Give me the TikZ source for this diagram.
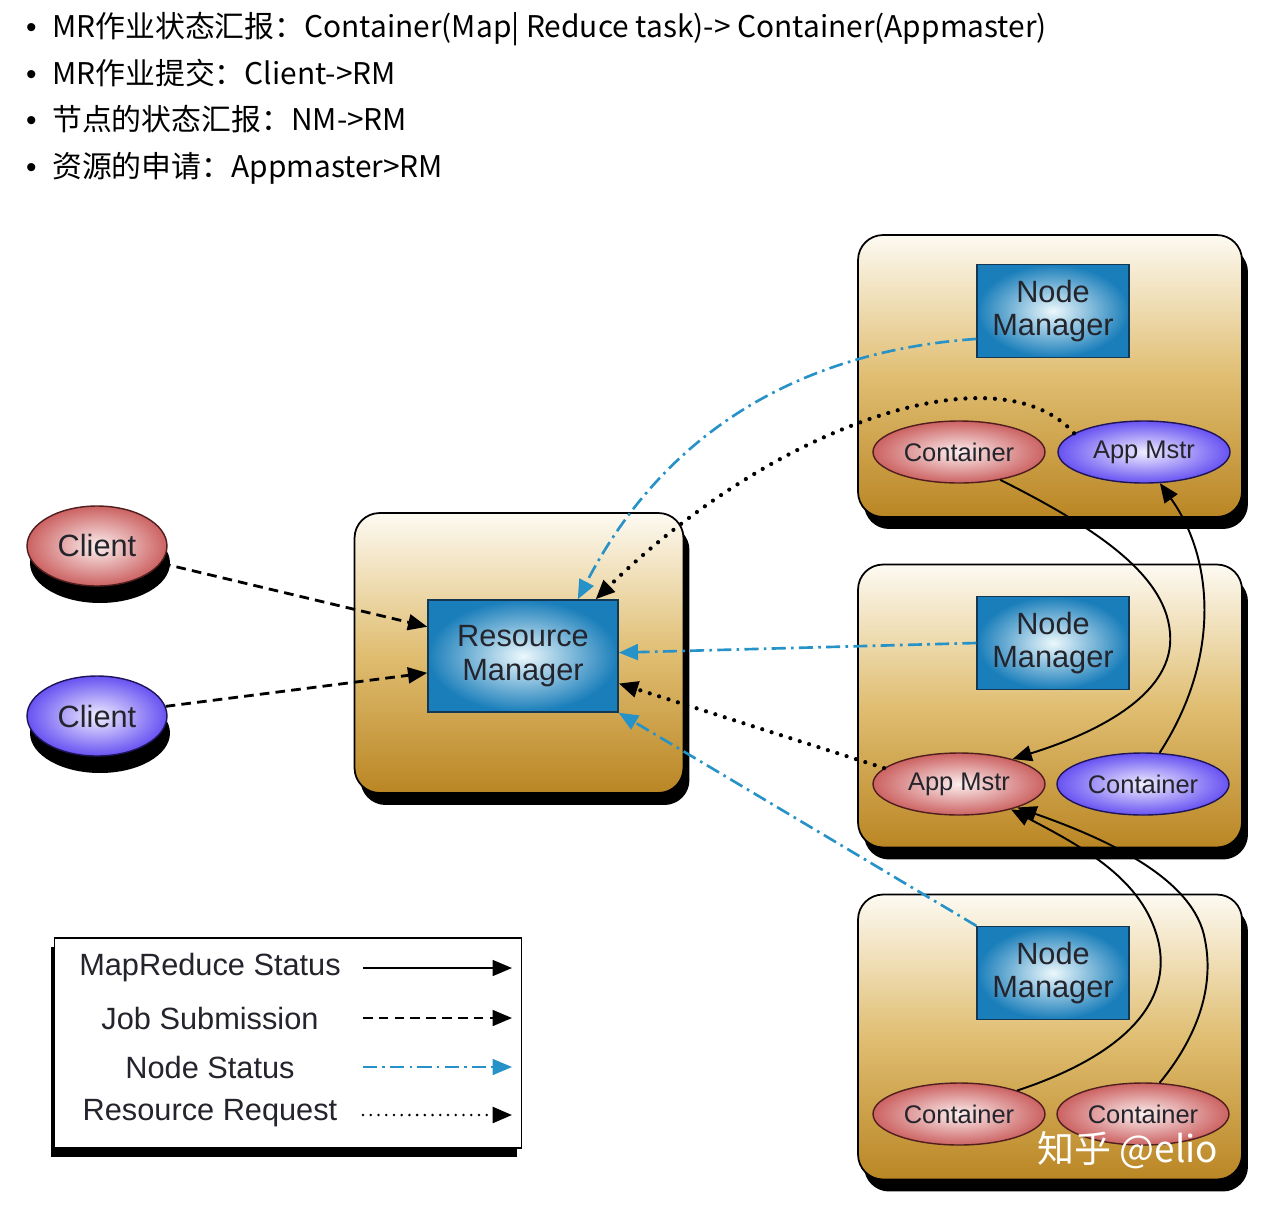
\documentclass[tikz,border=0pt]{standalone}
\usepackage{fontspec}
\setmainfont{Noto Sans CJK SC}
\newfontfamily\helv{Liberation Sans}
\usetikzlibrary{arrows.meta, shapes.geometric, shadows}

\definecolor{boxtop}{RGB}{253,250,242}
\definecolor{boxmid}{RGB}{224,190,114}
\definecolor{boxbot}{RGB}{186,134,36}
\definecolor{mgrblue}{RGB}{26,126,186}
\definecolor{mgrcore}{RGB}{236,248,252}
\definecolor{pinkout}{RGB}{204,98,98}
\definecolor{pinkin}{RGB}{252,238,238}
\definecolor{violout}{RGB}{104,82,242}
\definecolor{violin}{RGB}{240,238,255}
\definecolor{nsblue}{RGB}{38,146,200}
\definecolor{inktext}{RGB}{36,36,44}

\begin{document}
\begin{tikzpicture}[x=0.02cm, y=-0.02cm,
  hostbox/.style={draw=black, line width=1pt, rounded corners=0.5cm, inner sep=0pt,
    top color=boxtop, bottom color=boxbot, middle color=boxmid,
    drop shadow={shadow xshift=0.12cm, shadow yshift=-0.24cm, fill=black, opacity=1}},
  mgr/.style={draw={rgb,255:red,20;green,56;blue,84}, line width=0.8pt, inner sep=0pt,
    inner color=mgrcore, outer color=mgrblue, align=center, text=inktext,
    font=\helv\fontsize{17.5pt}{19pt}\selectfont},
  pinkell/.style={ellipse, draw={rgb,255:red,80;green,30;blue,30}, line width=0.8pt, inner sep=0pt,
    inner color=pinkin, outer color=pinkout, minimum width=3.44cm, minimum height=1.24cm,
    text=inktext, font=\helv\fontsize{14.5pt}{17pt}\selectfont},
  violell/.style={pinkell, draw={rgb,255:red,30;green,20;blue,90},
    inner color=violin, outer color=violout},
  client/.style={minimum width=2.8cm, minimum height=1.6cm, font=\helv\fontsize{17.5pt}{19pt}\selectfont,
    drop shadow={shadow xshift=0.06cm, shadow yshift=-0.34cm, fill=black, opacity=1}},
  legtext/.style={text=inktext, font=\helv\fontsize{17.5pt}{19pt}\selectfont},
  bullettext/.style={anchor=base west, text=black, font=\fontsize{17pt}{20pt}\selectfont},
  tip/.style={-{Triangle[length=11pt, width=9pt]}},
  mrstatus/.style={tip, draw=black, line width=1.1pt},
  jobsub/.style={tip, draw=black, line width=1.6pt, dash pattern=on 5.5pt off 3.5pt},
  nodestat/.style={tip, draw=nsblue, line width=1.5pt, dash pattern=on 8pt off 3pt on 1.5pt off 3pt},
  resreq/.style={tip, draw=black, line width=2.4pt, line cap=round, dash pattern=on 0pt off 5.6pt}]

  \path [use as bounding box, fill=white] (0,0) rectangle (1274,1214);

  % bullet list
  \node [bullettext, font=\helv\fontsize{17pt}{20pt}\selectfont] (b1) at (20,37) {•};
  \node [bullettext] (t1) at (46,37) {MR作业状态汇报：Container(Map| Reduce task)-> Container(Appmaster)};
  \node [bullettext, font=\helv\fontsize{17pt}{20pt}\selectfont] (b2) at (20,84) {•};
  \node [bullettext] (t2) at (46,84) {MR作业提交：Client->RM};
  \node [bullettext, font=\helv\fontsize{17pt}{20pt}\selectfont] (b3) at (20,130) {•};
  \node [bullettext] (t3) at (46,130) {节点的状态汇报：NM->RM};
  \node [bullettext, font=\helv\fontsize{17pt}{20pt}\selectfont] (b4) at (20,177) {•};
  \node [bullettext] (t4) at (46,177) {资源的申请：Appmaster>RM};

  % hosts
  \node [hostbox, minimum width=6.58cm, minimum height=5.6cm] (rmhost) at (519,653) {};
  \node [hostbox, minimum width=7.68cm, minimum height=5.64cm] (host1) at (1050,376) {};
  \node [hostbox, minimum width=7.68cm, minimum height=5.66cm] (host2) at (1050,706) {};
  \node [hostbox, minimum width=7.68cm, minimum height=5.7cm] (host3) at (1050,1037) {};

  \node [mgr, minimum width=3.8cm, minimum height=2.24cm] (rm) at (523,656) {Resource\\Manager};
  \node [mgr, minimum width=3.04cm, minimum height=1.86cm] (nm1) at (1053,311) {Node\\Manager};
  \node [mgr, minimum width=3.04cm, minimum height=1.86cm] (nm2) at (1053,643) {Node\\Manager};
  \node [mgr, minimum width=3.04cm, minimum height=1.86cm] (nm3) at (1053,973) {Node\\Manager};

  \node [pinkell] (ctr1) at (959,452) {Container};
  \node [violell] (am1) at (1144,452) {App Mstr};
  \node [pinkell] (am2) at (959,784) {App Mstr};
  \node [violell] (ctr2) at (1143,784) {Container};
  \node [pinkell] (ctr3a) at (959,1114) {Container};
  \node [pinkell] (ctr3b) at (1143,1114) {Container};

  % clients
  \node [pinkell, client] (c1) at (97,546) {Client};
  \node [violell, client] (c2) at (97,716) {Client};

  % job submission
  \draw [jobsub] (c1.-15) -- (rm.163);
  \draw [jobsub] (c2.8) -- (rm.190);

  % node status
  \draw [nodestat] (nm1.200) .. controls (790,352) and (660,440) .. (rm.46);
  \draw [nodestat] (nm2.west) -- (rm.2);
  \draw [nodestat] (nm3.north west) -- (rm.south east);

  % resource request
  \draw [resreq] (am1.165) .. controls (1000,350) and (780,420) .. (rm.38);
  \draw [resreq] (am2.168) -- (rm.-16);

  % mapreduce status
  \draw [mrstatus] (ctr1.-34) .. controls (1100,530) and (1175,580) .. (1170,645)
    .. controls (1165,700) and (1090,735) .. (am2.25);
  \draw [mrstatus] (ctr2.62) .. controls (1220,660) and (1215,560) .. (am1.-63);
  \draw [mrstatus] (ctr3a.22) .. controls (1110,1060) and (1175,1010) .. (1158,940)
    .. controls (1143,880) and (1085,848) .. (am2.-26);
  \draw [mrstatus] (ctr3b.62) .. controls (1195,1040) and (1215,990) .. (1205,940)
    .. controls (1195,880) and (1110,840) .. (am2.-22);

  % legend
  \node [draw=black, line width=1pt, fill=white, minimum width=9.34cm, minimum height=4.2cm,
    drop shadow={shadow xshift=-0.08cm, shadow yshift=-0.18cm, fill=black, opacity=1}] (legend) at (288,1043) {};
  \node [legtext] (lg1) at (210,968) {MapReduce Status};
  \node [legtext] (lg2) at (210,1018) {Job Submission};
  \node [legtext] (lg3) at (210,1067) {Node Status};
  \node [legtext] (lg4) at (210,1113) {Resource Request};
  \coordinate (ls1) at (363,968);  \coordinate (le1) at (512,968);
  \coordinate (ls2) at (363,1018); \coordinate (le2) at (512,1018);
  \coordinate (ls3) at (363,1067); \coordinate (le3) at (512,1067);
  \coordinate (ls4) at (363,1115); \coordinate (le4) at (512,1115);
  \draw [mrstatus] (ls1) -- (le1);
  \draw [jobsub, line width=1.2pt] (ls2) -- (le2);
  \draw [nodestat, line width=1.2pt] (ls3) -- (le3);
  \draw [resreq, line width=1.6pt, dash pattern=on 0pt off 4.4pt] (ls4) -- (le4);

  % watermark
  \node [text=white, font=\fontsize{21pt}{24pt}\selectfont] (wm) at (1128,1150) {知乎 @elio};
\end{tikzpicture}
\end{document}
